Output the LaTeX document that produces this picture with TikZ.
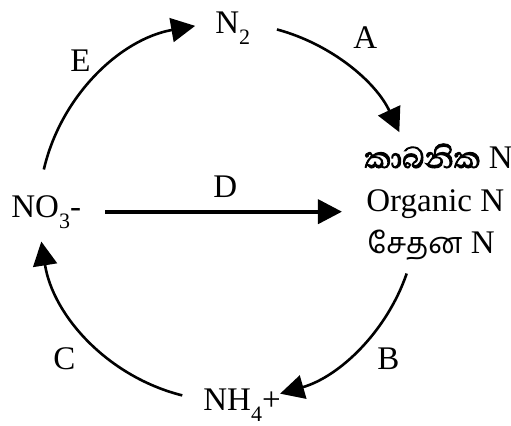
\documentclass[tikz,border=0pt]{standalone}
\usepackage{fontspec}
\setmainfont{Liberation Serif}
\newfontfamily\sinfont[Script=Sinhala,Scale=1.15,FakeBold=2.5]{Abhaya Libre}
\newfontfamily\tamfont[Script=Tamil,Scale=0.88]{Hind Madurai}
\usetikzlibrary{arrows.meta}
\newcommand\lowsub[1]{\raisebox{-5.5pt}{\fontsize{11}{11}\selectfont #1}}

\begin{document}
\begin{tikzpicture}[x=0.5pt,y=0.5pt,font=\fontsize{16.5}{20}\selectfont]
\useasboundingbox (0,0) rectangle (511,425);
\tikzset{lbl/.style={anchor=base west,inner sep=0pt},
  tip/.style={-{Triangle[length=12pt,width=12pt]}}}
% the four pools
\node[lbl] (n2) at (215,392) {N\lowsub{2}};
\node[lbl] (no3) at (11,208) {NO\lowsub{3}-};
\node[lbl] (nh4) at (203,15) {NH\lowsub{4}+};
\node[lbl] (orgsi) at (364,257) {{\sinfont කාබනික} N};
\node[lbl] (orgen) at (366,214) {Organic N};
\node[lbl] (orgta) at (367,172) {{\tamfont சேதன} N};
% process letters
\foreach \lab/\x/\y in {A/353/377,B/377/55,C/53/55,D/213/228,E/70/354}
  \node[lbl] (lab\lab) at (\x,\y) {\lab};
% cycle arcs
\coordinate (c) at (228,213);
\foreach \a/\b in {167/100,75/25,-19/-74,-104/-171}
  \draw[tip,line width=1.3pt] (c) ++(\a:94.5pt) arc[start angle=\a,end angle=\b,radius=94.5pt];
\draw[tip,line width=2pt,shorten <=12pt] (no3.east) -- ([xshift=-12pt]no3.east -| orgen.west);
\end{tikzpicture}
\end{document}
